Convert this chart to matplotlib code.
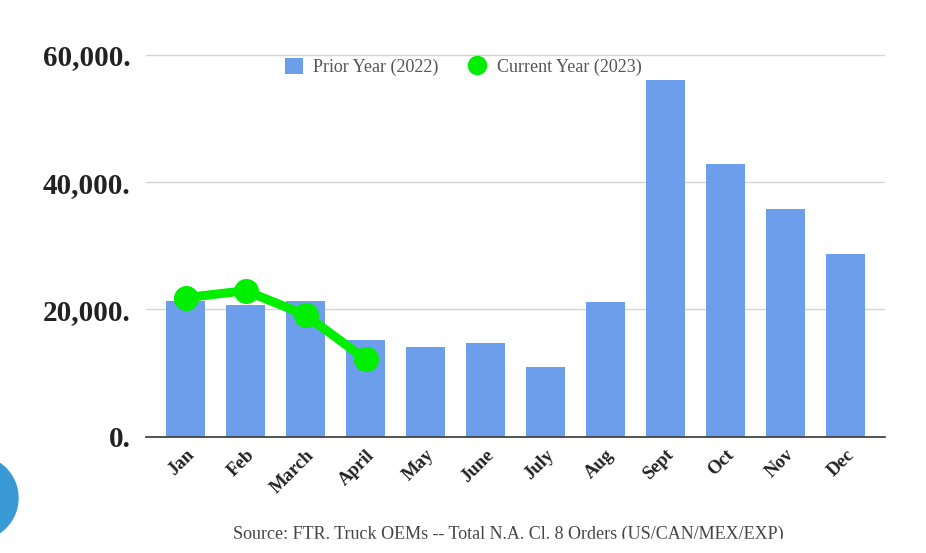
import matplotlib
matplotlib.use("Agg")
from matplotlib import pyplot as plt
from matplotlib.patches import Circle, Rectangle, Patch
from matplotlib.lines import Line2D

months = ["Jan", "Feb", "March", "April", "May", "June", "July", "Aug", "Sept", "Oct", "Nov", "Dec"]
prior_2022 = [21370, 20640, 21370, 15190, 14040, 14720, 10950, 21120, 56040, 42840, 35770, 28660]
current_2023 = [21840, 22940, 19120, 12160]
yticks = [0, 20000, 40000, 60000]

W, H = 926, 553
fig = plt.figure(figsize=(W / 100, H / 100), dpi=100)

# axes box in pixel coords of the reference
x0, x1 = 146, 885
y_base, y_top = 436.7, 48.4
ax = fig.add_axes([x0 / W, (H - y_base) / H, (x1 - x0) / W, (y_base - y_top) / H])

serif = ["Liberation Serif", "DejaVu Serif"]
bar_color = "#6d9eeb"
green = "#00ee00"

x = list(range(len(months)))
ax.bar(x, prior_2022, width=0.65, color=bar_color, zorder=2)
ax.plot(x[:len(current_2023)], current_2023, color=green, lw=6.5, marker="o",
        markersize=17, zorder=3, solid_capstyle="round")

ax.set_xlim(-0.66, 11.66)
ax.set_ylim(0, 61000)
ax.set_yticks(yticks)
ax.set_yticklabels([f"{v:,}." for v in yticks], fontfamily=serif, fontweight="bold",
                   fontsize=21, color="#222222")
ax.set_xticks(x)
ax.set_xticklabels(months, rotation=45, ha="right", va="top", rotation_mode="anchor",
                   fontfamily=serif, fontweight="bold", fontsize=13.5, color="#222222")
ax.tick_params(axis="y", length=0, pad=11)
ax.tick_params(axis="x", length=0, pad=7)
ax.grid(axis="y", color="#d4d4d4", lw=1, zorder=0)
for s in ["top", "right", "left"]:
    ax.spines[s].set_visible(False)
ax.spines["bottom"].set_color("#444444")
ax.spines["bottom"].set_linewidth(1.3)
ax.spines["bottom"].set_zorder(4)

handles = [Patch(facecolor=bar_color, edgecolor="none"),
           Line2D([], [], color=green, marker="o", lw=0, markersize=13)]
leg = fig.legend(handles, ["Prior Year (2022)", "Current Year (2023)"], ncol=2,
                 loc="center", bbox_to_anchor=(463 / W, (H - 67) / H), frameon=False,
                 prop={"family": serif, "size": 13}, handlelength=1.0, handleheight=1.0,
                 columnspacing=1.6, handletextpad=0.6)
for t in leg.get_texts():
    t.set_color("#555555")

fig.text(508 / W, (H - 526) / H,
         "Source: FTR. Truck OEMs -- Total N.A. Cl. 8 Orders (US/CAN/MEX/EXP)",
         ha="center", va="top", fontfamily=serif, fontsize=13, color="#444444")
# the source line is cut off at its lower part in the reference
fig.patches.append(Rectangle((180, 0), 700, H - 539, transform=None, color="white", zorder=4))

# blue round button at lower left edge
fig.patches.append(Circle((-24, H - 498), 42, transform=None, color="#3a9ad5", zorder=5))

fig.savefig("out.png", dpi=100)
